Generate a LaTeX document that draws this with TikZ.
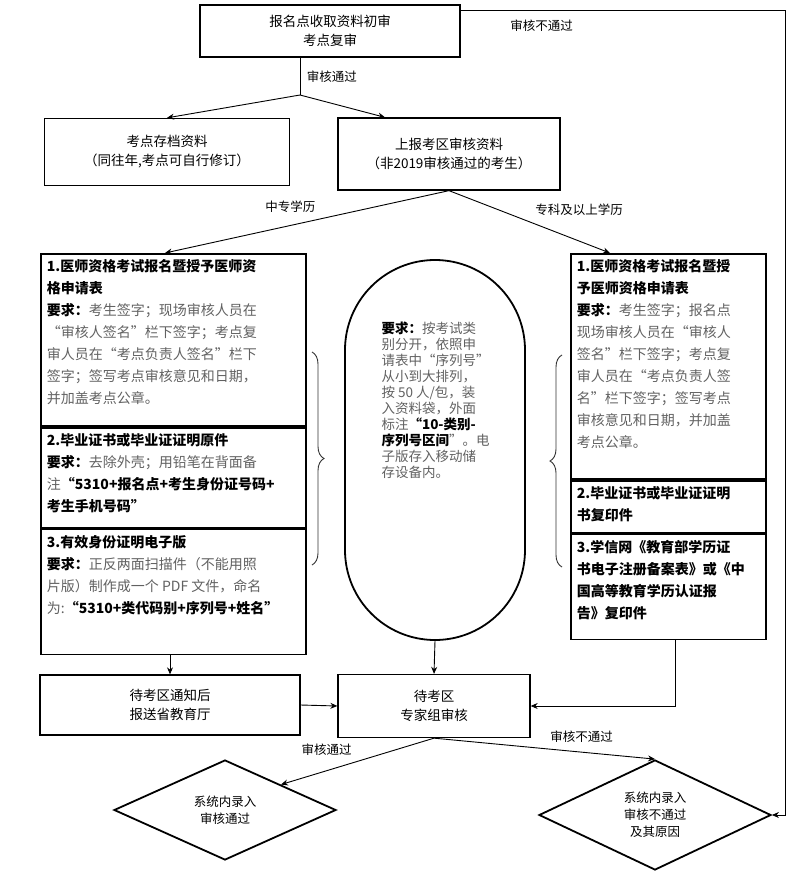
\documentclass[tikz,border=0pt]{standalone}
\usepackage{fontspec}
\setmainfont{Noto Sans CJK SC}
\usetikzlibrary{arrows.meta,shapes.geometric,decorations.pathreplacing}
\definecolor{bodygray}{gray}{0.38}
\tikzset{
  flowbox/.style={draw, line width=1.3pt, align=center, font=\fontsize{13.5}{19}\selectfont, inner sep=0pt},
  colbox/.style={draw, line width=1.8pt, anchor=north west, inner sep=6pt, font=\fontsize{14}{22}\selectfont},
  decide/.style={draw, diamond, aspect=2.2, line width=1.8pt, align=center, inner sep=0pt, font=\fontsize{12.5}{17}\selectfont},
  flow/.style={line width=0.9pt, -{Stealth[length=7pt,width=6pt]}},
  plain/.style={line width=0.9pt},
  lbl/.style={font=\fontsize{12.5}{15}\selectfont},
  curly/.style={decorate, decoration={brace, amplitude=12pt}, line width=0.9pt, black!80}
}
\newcommand{\req}{\textcolor{black}{\bfseries 要求：}}
\begin{document}
\begin{tikzpicture}[x=1pt,y=-1pt]
\useasboundingbox (0,0) rectangle (800,878);

% top part
\node[flowbox, minimum width=260, minimum height=52] (check) at (330,31) {报名点收取资料初审\\考点复审};
\coordinate (split) at (300,95);
\node[flowbox, minimum width=245, minimum height=67] (archive) at (167,152) {考点存档资料\\（同往年,考点可自行修订）};
\node[flowbox, minimum width=222, minimum height=72] (report) at (449,154) {上报考区审核资料\\（非2019审核通过的考生）};

% left column
\node[colbox] (l1) at (40,253) {\parbox[c][160pt][t]{253pt}{\bfseries 1.医师资格考试报名暨授予医师资\\格申请表\\\req\color{bodygray}\mdseries 考生签字；现场审核人员在\\“审核人签名”栏下签字；考点复\\审人员在“考点负责人签名”栏下\\签字；签写考点审核意见和日期，\\并加盖考点公章。}};
\node[colbox] (l2) at (l1.south west) {\parbox[c][88pt][t]{253pt}{\bfseries 2.毕业证书或毕业证证明原件\\\req\color{bodygray}\mdseries 去除外壳；用铅笔在背面备\\注\textcolor{black}{\bfseries “5310+报名点+考生身份证号码+\\考生手机号码”}}};
\node[colbox] (l3) at (l2.south west) {\parbox[c][113pt][t]{253pt}{\bfseries 3.有效身份证明电子版\\\req\color{bodygray}\mdseries 正反两面扫描件（不能用照\\片版）制作成一个 PDF 文件，命名\\为:\textcolor{black}{\bfseries “5310+类代码别+序列号+姓名”}}};

% middle stadium
\node[draw, line width=1.8pt, minimum width=180, minimum height=380, rounded corners=90pt] (pack) at (435,450) {};
\node[anchor=north west, align=left, bodygray, font=\fontsize{13.5}{16}\selectfont] (packtxt) at (378,318) {\textcolor{black}{\bfseries 要求：}按考试类\\别分开，依照申\\请表中“序列号”\\从小到大排列，\\按 50 人/包，装\\入资料袋，外面\\标注\textcolor{black}{\bfseries “10-类别-}\\\textcolor{black}{\bfseries 序列号区间}”。电\\子版存入移动储\\存设备内。};

% right column
\node[colbox] (r1) at (570,253) {\parbox[c][213pt][t]{183pt}{\bfseries 1.医师资格考试报名暨授\\予医师资格申请表\\\req\color{bodygray}\mdseries 考生签字；报名点\\现场审核人员在“审核人\\签名”栏下签字；考点复\\审人员在“考点负责人签\\名”栏下签字；签写考点\\审核意见和日期，并加盖\\考点公章。}};
\node[colbox] (r2) at (r1.south west) {\parbox[c][40pt][t]{183pt}{\bfseries 2.毕业证书或毕业证证明\\书复印件}};
\node[colbox] (r3) at (r2.south west) {\parbox[c][93pt][t]{183pt}{\bfseries 3.学信网《教育部学历证\\书电子注册备案表》或《中\\国高等教育学历认证报\\告》复印件}};

% braces
\coordinate (lbtop) at (312,352);
\coordinate (lbbot) at (312,565);
\coordinate (rbtop) at (562,355);
\coordinate (rbbot) at (562,567);
\draw[curly] (lbtop) -- (lbbot);
\draw[curly] (rbbot) -- (rbtop);

% bottom part
\node[flowbox, minimum width=260, minimum height=60] (notify) at (170,705) {待考区通知后\\报送省教育厅};
\node[flowbox, minimum width=192, minimum height=63] (expert) at (434,706) {待考区\\专家组审核};
\node[decide, minimum width=222, minimum height=100] (pass) at (225,810) {系统内录入\\审核通过};
\node[decide, minimum width=232, minimum height=110] (fail) at (655,815) {系统内录入\\审核不通过\\及其原因};

% connector ends
\coordinate (toreport) at (385,0);
\coordinate (tol1) at (165,0);
\coordinate (tor1) at (610,0);
\coordinate (lcol) at (170,0);
\coordinate (rcol) at (675,0);
\coordinate (back1) at (785,10);

% connectors
\draw[plain] (check.south -| split) -- node[lbl, right=3pt] {审核通过} (split);
\draw[flow] (split) -- (archive.north);
\draw[flow] (split) -- (report.north -| toreport);
\draw[flow] (report.south) -- node[lbl, above left=2pt, pos=0.45] {中专学历} (l1.north -| tol1);
\draw[flow] (report.south) -- node[lbl, above right=2pt, pos=0.5] {专科及以上学历} (r1.north -| tor1);
\draw[flow] (l3.south -| lcol) -- (notify.north -| lcol);
\draw[flow] (pack.south) -- (expert.north);
\draw[flow] (notify.east) -- (expert.west);
\draw[flow] (r3.south -| rcol) |- (expert.east);
\draw[flow] (expert.south) -- node[lbl, above left=2pt] {审核通过} (pass.north east);
\draw[flow] (expert.south) -- node[lbl, above right=2pt] {审核不通过} (fail.north);
\draw[flow] (check.north east |- back1) -- node[lbl, below, pos=0.25, yshift=-6pt] {审核不通过} (back1) |- (fail.east);
\end{tikzpicture}
\end{document}
